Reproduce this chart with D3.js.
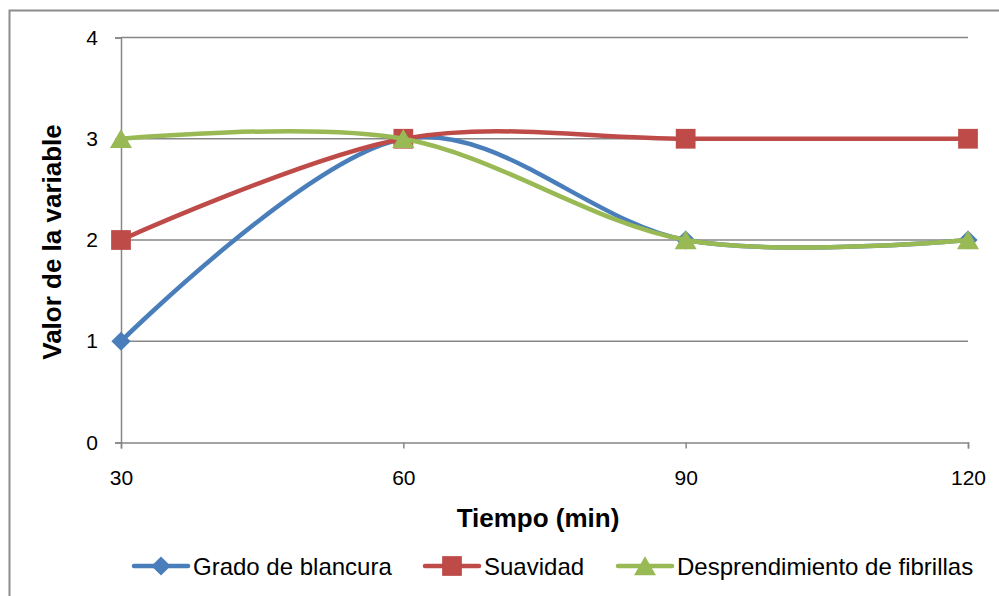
<!DOCTYPE html>
<html>
<head>
<meta charset="utf-8">
<script src="https://cdn.jsdelivr.net/npm/d3@7"></script>
<style>
  html, body { margin: 0; padding: 0; background: #fff; }
  svg { display: block; font-family: "Liberation Sans", Arial, sans-serif; }
</style>
</head>
<body>
<svg id="chart" width="999" height="596"></svg>
<script>
// Time points (min) and variable values for each series
const tiempos = [30, 60, 90, 120];
const gradoBlancura = [1, 3, 2, 2];
const suavidad = [2, 3, 3, 3];
const desprendimiento = [3, 3, 2, 2];
const yTicks = [0, 1, 2, 3, 4];

const series = [
  { name: "Grado de blancura", values: gradoBlancura, color: "#4a7ebb", marker: "diamond" },
  { name: "Suavidad", values: suavidad, color: "#be4b48", marker: "square" },
  { name: "Desprendimiento de fibrillas", values: desprendimiento, color: "#98b954", marker: "triangle" }
];

const svg = d3.select("#chart");
const W = 999, H = 596;
const plot = { left: 121, right: 968, top: 37.5, bottom: 442.5 };
const FONT = "Liberation Sans, Arial, sans-serif";

// Outer chart frame
svg.append("rect")
  .attr("x", 9.5).attr("y", 10.5)
  .attr("width", W + 20).attr("height", H + 20)
  .attr("fill", "#fff").attr("stroke", "#8c8c8c").attr("stroke-width", 2);

const x = d3.scaleLinear().domain([30, 120]).range([plot.left, plot.right]);
const y = d3.scaleLinear().domain([0, 4]).range([plot.bottom, plot.top]);

// Horizontal gridlines
svg.append("g").selectAll("line")
  .data(yTicks.filter(d => d > 0))
  .join("line")
  .attr("x1", plot.left).attr("x2", plot.right)
  .attr("y1", d => y(d)).attr("y2", d => y(d))
  .attr("stroke", "#878787").attr("stroke-width", 1.5);

// Y axis
const yAxis = svg.append("g")
  .attr("transform", `translate(${plot.left},0)`)
  .call(d3.axisLeft(y).tickValues(yTicks).tickSize(6).tickPadding(17).tickFormat(d3.format("d")));
yAxis.select(".domain").attr("stroke", "#878787").attr("stroke-width", 1.5);
yAxis.selectAll(".tick line").attr("stroke", "#878787").attr("stroke-width", 1.5);
yAxis.selectAll(".tick text").attr("font-size", 21).attr("fill", "#000").attr("font-family", FONT);

// X axis
const xAxis = svg.append("g")
  .attr("transform", `translate(0,${plot.bottom})`)
  .call(d3.axisBottom(x).tickValues(tiempos).tickSize(6).tickPadding(22).tickFormat(d3.format("d")));
xAxis.select(".domain").attr("stroke", "#878787").attr("stroke-width", 1.5);
xAxis.selectAll(".tick line").attr("stroke", "#878787").attr("stroke-width", 1.5);
xAxis.selectAll(".tick text").attr("font-size", 21).attr("fill", "#000").attr("font-family", FONT);

// Axis titles
svg.append("text")
  .attr("x", 538).attr("y", 527)
  .attr("text-anchor", "middle")
  .attr("font-size", 26).attr("font-weight", "bold")
  .text("Tiempo (min)");
svg.append("text")
  .attr("transform", "translate(61,242) rotate(-90)")
  .attr("text-anchor", "middle")
  .attr("font-size", 26).attr("font-weight", "bold")
  .text("Valor de la variable");

// Marker shapes
const symbolFor = {
  diamond: d3.symbol().type(d3.symbolSquare).size(185),
  square: d3.symbol().type(d3.symbolSquare).size(390),
  triangle: d3.symbol().type(d3.symbolTriangle).size(210)
};
function drawMarker(g, s, cx, cy) {
  const p = g.append("path")
    .attr("d", symbolFor[s.marker]())
    .attr("fill", s.color);
  if (s.marker === "diamond") p.attr("transform", `translate(${cx},${cy}) rotate(45)`);
  else if (s.marker === "triangle") p.attr("transform", `translate(${cx},${cy + 3})`);
  else p.attr("transform", `translate(${cx},${cy})`);
}

// Smoothed series lines
const line = d3.line()
  .x((d, i) => x(tiempos[i]))
  .y(d => y(d))
  .curve(d3.curveCardinal.tension(0));

series.forEach(s => {
  const g = svg.append("g");
  g.append("path")
    .attr("d", line(s.values))
    .attr("fill", "none")
    .attr("stroke", s.color)
    .attr("stroke-width", 4.5)
    .attr("stroke-linecap", "round");
  s.values.forEach((v, i) => drawMarker(g, s, x(tiempos[i]), y(v)));
});

// Legend
const legendItems = [
  { s: series[0], x0: 134 },
  { s: series[1], x0: 425 },
  { s: series[2], x0: 618 }
];
const ly = 566;
legendItems.forEach(({ s, x0 }) => {
  const g = svg.append("g");
  g.append("line")
    .attr("x1", x0).attr("x2", x0 + 54)
    .attr("y1", ly).attr("y2", ly)
    .attr("stroke", s.color).attr("stroke-width", 4.5).attr("stroke-linecap", "round");
  drawMarker(g, s, x0 + 27, ly);
  g.append("text")
    .attr("x", x0 + 59).attr("y", ly + 8.5)
    .attr("font-size", 24).attr("fill", "#000")
    .text(s.name);
});
</script>
</body>
</html>
